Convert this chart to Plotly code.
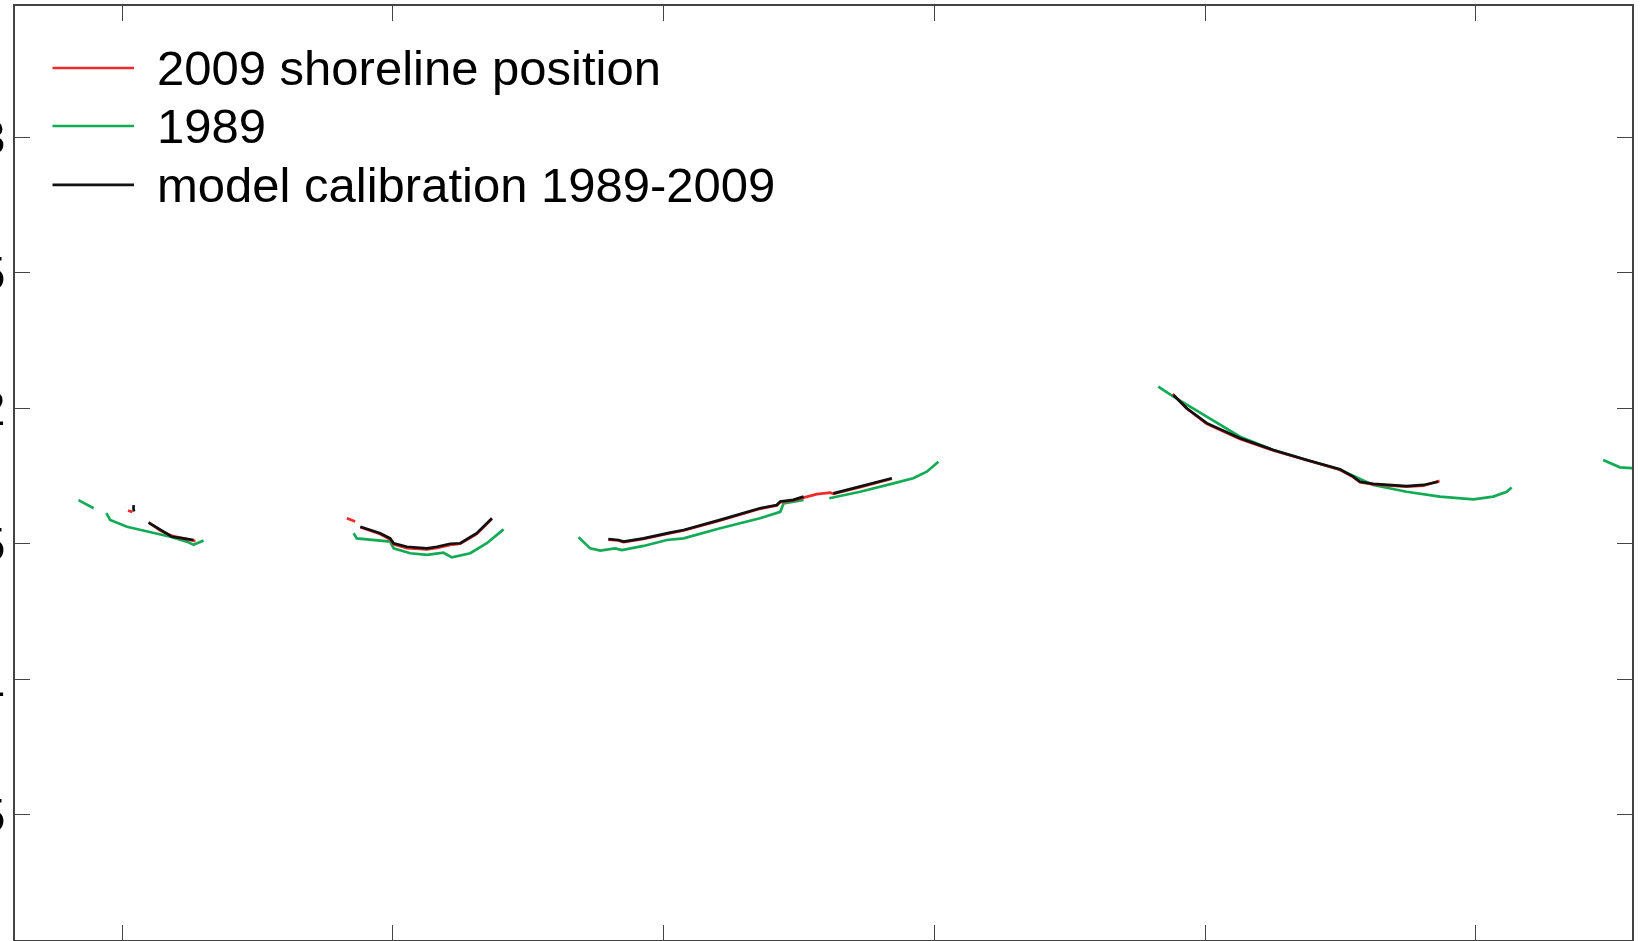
import plotly.graph_objects as go

# ---- data (data units) ----
# 1989 shoreline (green), segments separated by None
x1989 = [0.839, 0.864, 0.895, None,
         0.942, 0.956, 1.018, 1.092, 1.178, 1.239, 1.264, 1.301, None,
         1.855, 1.867, 1.990, 2.003, 2.064, 2.126, 2.187, 2.218, 2.286, 2.347, 2.409, None,
         2.686, 2.729, 2.766, 2.821, 2.846, 2.926, 3.012, 3.074, 3.209, 3.356, 3.431, 3.443, 3.517, None,
         3.612, 3.726, 3.849, 3.922, 3.972, 4.015, None,
         4.827, 4.883, 5.006, 5.129, 5.252, 5.375, 5.498, 5.621, 5.744, 5.867, 5.991, 6.064, 6.114, 6.132, None,
         6.470, 6.532, 6.575, 6.600]
y1989 = [1.660, 1.646, 1.630, None,
         1.612, 1.587, 1.562, 1.544, 1.525, 1.507, 1.495, 1.511, None,
         1.538, 1.519, 1.507, 1.482, 1.464, 1.458, 1.466, 1.449, 1.464, 1.501, 1.552, None,
         1.523, 1.482, 1.474, 1.482, 1.476, 1.491, 1.513, 1.519, 1.556, 1.593, 1.617, 1.648, 1.661, None,
         1.667, 1.691, 1.722, 1.741, 1.765, 1.802, None,
         2.079, 2.042, 1.968, 1.894, 1.845, 1.808, 1.772, 1.716, 1.691, 1.673, 1.663, 1.673, 1.691, 1.707, None,
         1.808, 1.781, 1.778, 1.777]

# 2009 shoreline position (red)
x2009 = [1.022, 1.038, None,
         1.098, 1.141, 1.184, 1.227, 1.271, None,
         1.830, 1.861, None,
         1.880, 1.953, 1.990, 2.003, 2.052, 2.126, 2.163, 2.212, 2.249, 2.310, 2.366, None,
         2.796, 2.833, 2.852, 2.926, 3.024, 3.074, 3.209, 3.356, 3.418, 3.431, 3.479, 3.517,
         3.566, 3.615, 3.627, 3.726, 3.787, 3.843, None,
         4.880, 4.932, 5.006, 5.129, 5.252, 5.289, 5.375, 5.498, 5.547, 5.572, 5.621, 5.744, 5.806, 5.866]
y2009 = [1.622, 1.616, None,
         1.578, 1.548, 1.528, 1.518, 1.509, None,
         1.593, 1.581, None,
         1.560, 1.535, 1.515, 1.497, 1.483, 1.478, 1.484, 1.495, 1.499, 1.535, 1.591, None,
         1.514, 1.511, 1.505, 1.517, 1.538, 1.548, 1.585, 1.628, 1.640, 1.653, 1.659, 1.670,
         1.682, 1.688, 1.683, 1.708, 1.723, 1.739, None,
         2.052, 1.998, 1.942, 1.886, 1.843, 1.832, 1.806, 1.772, 1.745, 1.726, 1.718, 1.710, 1.713, 1.731]

# model calibration 1989-2009 (black)
xmodel = [1.043, 1.042, 1.044, None,
          1.098, 1.141, 1.184, 1.227, 1.264, None,
          1.880, 1.953, 1.990, 2.003, 2.052, 2.126, 2.163, 2.212, 2.249, 2.310, 2.366, None,
          2.796, 2.833, 2.852, 2.926, 3.024, 3.074, 3.209, 3.356, 3.418, 3.431, 3.479, 3.517, None,
          3.627, 3.726, 3.787, 3.843, None,
          4.883, 4.932, 5.006, 5.129, 5.252, 5.289, 5.375, 5.498, 5.547, 5.572, 5.621, 5.744, 5.806, 5.861]
ymodel = [1.642, 1.630, 1.618, None,
          1.577, 1.550, 1.525, 1.519, 1.513, None,
          1.562, 1.538, 1.519, 1.501, 1.488, 1.482, 1.488, 1.499, 1.501, 1.538, 1.593, None,
          1.516, 1.513, 1.507, 1.519, 1.540, 1.550, 1.587, 1.630, 1.642, 1.655, 1.661, 1.673, None,
          1.685, 1.710, 1.725, 1.741, None,
          2.048, 1.999, 1.944, 1.888, 1.845, 1.833, 1.808, 1.774, 1.747, 1.728, 1.720, 1.712, 1.716, 1.728]

xticks = [1, 2, 3, 4, 5, 6]
yticks = [0.5, 1.0, 1.5, 2.0, 2.5, 3.0]
ytick_labels = ["0.5", "1", "1.5", "2", "2.5", "3"]
x_range = [0.6045, 6.5766]
y_range = [0.0369, 3.4834]

series_names = ["2009 shoreline position", "1989", "model calibration 1989-2009"]

RED = "#ee2a2a"
GREEN = "#13ab55"
BLACK = "#111111"
series_colors = [RED, GREEN, BLACK]

fig = go.Figure()
fig.add_trace(go.Scatter(x=x1989, y=y1989, mode="lines", name=series_names[1],
                         line=dict(color=GREEN, width=2.7), connectgaps=False, showlegend=False))
fig.add_trace(go.Scatter(x=x2009, y=y2009, mode="lines", name=series_names[0],
                         line=dict(color=RED, width=2.7), connectgaps=False, showlegend=False))
fig.add_trace(go.Scatter(x=xmodel, y=ymodel, mode="lines", name=series_names[2],
                         line=dict(color=BLACK, width=2.7), connectgaps=False, showlegend=False))

# legend drawn as line samples + text (MATLAB-style long samples)
leg_x0, leg_x1, leg_tx = 0.0232, 0.0736, 0.0866
leg_rows = [0.9336, 0.8715, 0.8084]
for name, col, ry in zip(series_names, series_colors, leg_rows):
    fig.add_shape(type="line", xref="paper", yref="paper", x0=leg_x0, x1=leg_x1, y0=ry, y1=ry,
                  line=dict(color=col, width=2.7))
    fig.add_annotation(xref="paper", yref="paper", x=leg_tx, y=ry, text=name, showarrow=False,
                       xanchor="left", yanchor="middle", font=dict(size=49, color="black"))

axis_common = dict(showgrid=False, zeroline=False, showline=True, linecolor="#444444",
                   linewidth=1.6, mirror="ticks", ticks="inside", ticklen=15,
                   tickcolor="#444444", tickwidth=1.4, automargin=False)

fig.update_layout(
    width=1646, height=941,
    margin=dict(l=15, r=14, t=6, b=1, autoexpand=False),
    paper_bgcolor="white", plot_bgcolor="white",
    font=dict(family="Liberation Sans, Arial, Helvetica, sans-serif", size=49, color="black"),
    xaxis=dict(range=x_range, tickvals=xticks, showticklabels=False, **axis_common),
    yaxis=dict(range=y_range, tickvals=yticks, ticktext=ytick_labels,
               tickfont=dict(size=49), ticklabelstandoff=-2, **axis_common),
    showlegend=False,
)

fig.write_html("out.html", config={"displayModeBar": False},
               post_script="document.body.style.margin='0px';document.body.style.overflow='hidden';")
